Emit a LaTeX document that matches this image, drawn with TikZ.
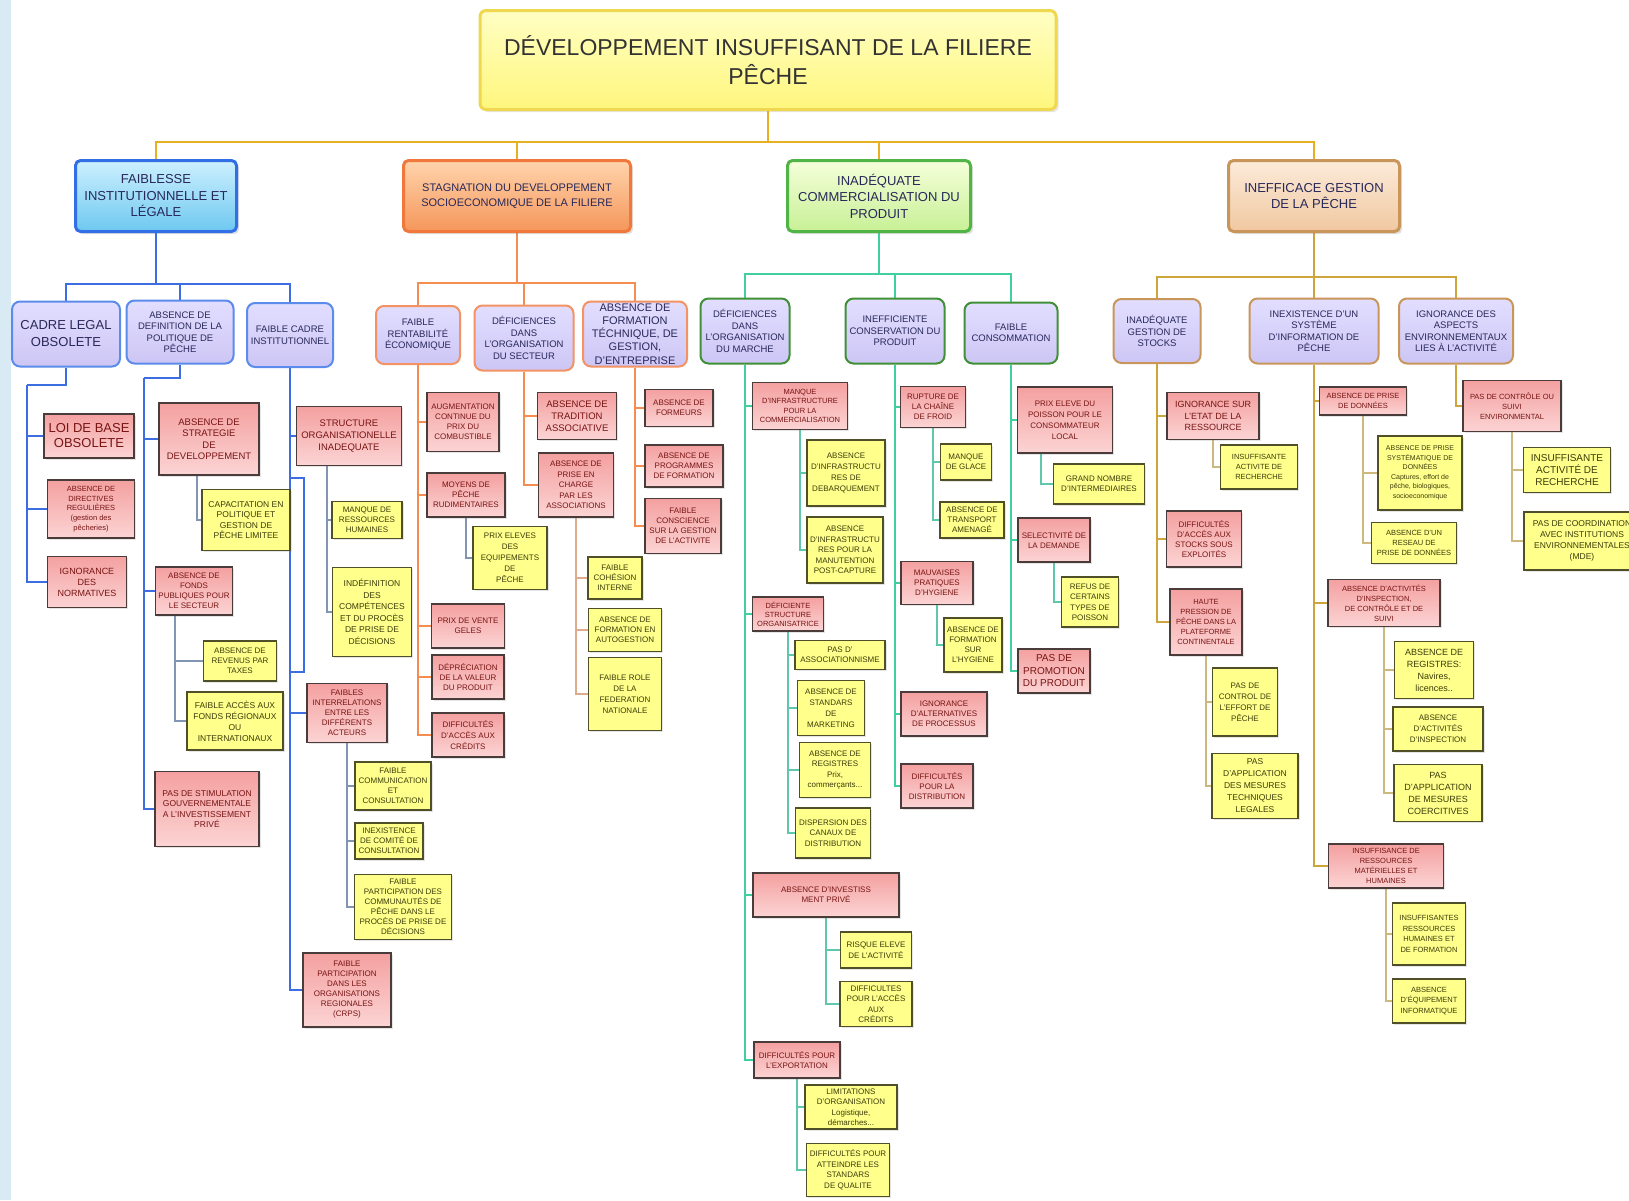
\documentclass[tikz,border=0pt]{standalone}
\usepackage{fontspec}
\setmainfont{Liberation Sans}
\usepackage{tikz}
\usetikzlibrary{shadows,backgrounds,calc}
\usepackage{xcolor}
\definecolor{stripblue}{RGB}{216,235,245}
\definecolor{rootedge}{RGB}{240,215,80}
\definecolor{roottop}{RGB}{255,255,195}
\definecolor{rootbot}{RGB}{255,246,125}
\definecolor{edgeA}{RGB}{50,110,230}
\definecolor{edgeB}{RGB}{240,120,60}
\definecolor{edgeC}{RGB}{80,180,70}
\definecolor{edgeD}{RGB}{200,150,90}
\definecolor{topA}{RGB}{205,240,255}
\definecolor{botA}{RGB}{110,200,240}
\definecolor{topB}{RGB}{255,212,172}
\definecolor{botB}{RGB}{245,150,90}
\definecolor{topC}{RGB}{245,255,218}
\definecolor{botC}{RGB}{200,240,150}
\definecolor{topD}{RGB}{252,235,218}
\definecolor{botD}{RGB}{240,200,160}
\definecolor{lavtop}{RGB}{226,222,255}
\definecolor{lavbot}{RGB}{205,198,245}
\definecolor{lineA}{RGB}{60,110,225}
\definecolor{lineB}{RGB}{245,140,80}
\definecolor{lineC}{RGB}{64,208,160}
\definecolor{lineD}{RGB}{205,165,60}
\definecolor{twigA}{RGB}{130,150,180}
\definecolor{twigB}{RGB}{222,172,140}
\definecolor{twigC}{RGB}{95,200,172}
\definecolor{twigD}{RGB}{205,185,125}
\definecolor{bargold}{RGB}{232,176,32}
\definecolor{causeedge}{RGB}{75,60,60}
\definecolor{causetop}{RGB}{244,160,160}
\definecolor{causebot}{RGB}{252,212,212}
\definecolor{causetext}{RGB}{120,20,20}
\definecolor{detailedge}{RGB}{80,80,40}
\definecolor{detailfill}{RGB}{255,255,140}
\definecolor{detailtext}{RGB}{60,60,10}
\definecolor{cattext}{RGB}{40,40,90}
\newcommand{\boxfont}[2]{\fontsize{#1}{#2}\selectfont}
\tikzset{
    rootbox/.style={rectangle, rounded corners=6pt, draw=rootedge, line width=3pt, top color=roottop, bottom color=rootbot, text=black!80, align=center, font=\boxfont{23}{29}, drop shadow={opacity=0.2}},
    mainbox/.style={rectangle, rounded corners=5pt, line width=3pt, align=center, text=cattext, font=\boxfont{13}{16.5}, inner sep=1pt, drop shadow={opacity=0.25}},
    mainA/.style={mainbox, draw=edgeA, top color=topA, bottom color=botA},
    mainB/.style={mainbox, draw=edgeB, top color=topB, bottom color=botB},
    mainC/.style={mainbox, draw=edgeC, top color=topC, bottom color=botC},
    mainD/.style={mainbox, draw=edgeD, top color=topD, bottom color=botD},
    catbox/.style={rectangle, rounded corners=8pt, line width=2pt, top color=lavtop, bottom color=lavbot, align=center, text=cattext, font=\boxfont{9.5}{11.5}, inner sep=1pt},
    catA/.style={catbox, draw=edgeA!80},
    catB/.style={catbox, draw=edgeB!80},
    catC/.style={catbox, draw=edgeC!80!black},
    catD/.style={catbox, draw=edgeD},
    cause/.style={rectangle, draw=causeedge, line width=1.4pt, top color=causetop, bottom color=causebot, text=causetext, align=center, inner sep=1pt, font=\boxfont{8}{10}, drop shadow={opacity=0.2, shadow xshift=1.5pt, shadow yshift=-1.5pt}},
    detail/.style={rectangle, draw=detailedge, line width=1.4pt, fill=detailfill, text=detailtext, align=center, inner sep=1pt, font=\boxfont{8}{10}, drop shadow={opacity=0.2, shadow xshift=1.5pt, shadow yshift=-1.5pt}},
    barline/.style={draw=bargold, line width=2.5pt},
    spineA/.style={draw=lineA, line width=2pt},
    spineB/.style={draw=lineB, line width=2pt},
    spineC/.style={draw=lineC, line width=2.5pt},
    spineD/.style={draw=lineD, line width=2pt},
    twigA/.style={draw=twigA, line width=1.5pt},
    twigB/.style={draw=twigB, line width=1.5pt},
    twigC/.style={draw=twigC, line width=1.5pt},
    twigD/.style={draw=twigD, line width=1.5pt},
}

\begin{document}
\begin{tikzpicture}[x=1pt, y=-1pt]
    \useasboundingbox (0,0) rectangle (1629,1200);
    % Root
    \node[rootbox, minimum width=576, minimum height=99] (root) at (768,60) {DÉVELOPPEMENT INSUFFISANT DE LA FILIERE\\PÊCHE};
    % Main causes
    \node[mainA, minimum width=161, minimum height=71] (fai) at (156,196) {FAIBLESSE\\INSTITUTIONNELLE ET\\LÉGALE};
    \node[mainB, minimum width=227, minimum height=71, font=\boxfont{11}{14.5}] (sta) at (517,196) {STAGNATION DU DEVELOPPEMENT\\SOCIOECONOMIQUE DE LA FILIERE};
    \node[mainC, minimum width=183, minimum height=71] (ina) at (879,196) {INADÉQUATE\\COMMERCIALISATION DU\\PRODUIT};
    \node[mainD, minimum width=171, minimum height=71] (ine) at (1314,196) {INEFFICACE GESTION\\DE LA PÊCHE};

    % Branch A: faiblesse institutionnelle
    \node[catA, minimum width=108, minimum height=65, font=\boxfont{13}{17}] (cad) at (66,334) {CADRE LEGAL\\OBSOLETE};
    \node[catA, minimum width=107, minimum height=63] (def) at (180,332) {ABSENCE DE\\DEFINITION DE LA\\POLITIQUE DE\\PÊCHE};
    \node[catA, minimum width=86, minimum height=64] (fca) at (290,335) {FAIBLE CADRE\\INSTITUTIONNEL};
    \node[cause, minimum width=90, minimum height=44, font=\boxfont{13}{15}] (loi) at (89,436) {LOI DE BASE\\OBSOLETE};
    \node[cause, minimum width=87, minimum height=58, font=\boxfont{7.5}{9.8}] (dir) at (91,509) {ABSENCE DE\\DIRECTIVES\\REGULIÈRES\\(gestion des\\pêcheries)};
    \node[cause, minimum width=79, minimum height=51, font=\boxfont{9}{11}] (nor) at (87,582) {IGNORANCE\\DES\\NORMATIVES};
    \node[cause, minimum width=100, minimum height=72, font=\boxfont{9.5}{11.5}] (str) at (209,439) {ABSENCE DE\\STRATEGIE\\DE\\DEVELOPPEMENT};
    \node[detail, minimum width=88, minimum height=61, font=\boxfont{8.5}{10.5}] (cap) at (246,520) {CAPACITATION EN\\POLITIQUE ET\\GESTION DE\\PÊCHE LIMITEE};
    \node[cause, minimum width=77, minimum height=48] (fon) at (194,591) {ABSENCE DE\\FONDS\\PUBLIQUES POUR\\LE SECTEUR};
    \node[detail, minimum width=73, minimum height=40] (rev) at (240,661) {ABSENCE DE\\REVENUS PAR\\TAXES};
    \node[detail, minimum width=96, minimum height=58, font=\boxfont{8.5}{11}] (acc) at (235,721) {FAIBLE ACCÈS AUX\\FONDS RÉGIONAUX\\OU\\INTERNATIONAUX};
    \node[cause, minimum width=104, minimum height=75, font=\boxfont{8.5}{10.5}] (sti) at (207,809) {PAS DE STIMULATION\\GOUVERNEMENTALE\\A L'INVESTISSEMENT\\PRIVÉ};
    \node[cause, minimum width=105, minimum height=59, font=\boxfont{9.5}{12}] (sor) at (349,436) {STRUCTURE\\ORGANISATIONELLE\\INADEQUATE};
    \node[detail, minimum width=70, minimum height=37] (rhu) at (367,520) {MANQUE DE\\RESSOURCES\\HUMAINES};
    \node[detail, minimum width=79, minimum height=89, font=\boxfont{8.5}{11.5}] (ind) at (372,612) {INDÉFINITION\\DES\\COMPÉTENCES\\ET DU PROCÈS\\DE PRISE DE\\DÉCISIONS};
    \node[cause, minimum width=80, minimum height=59] (inr) at (347,713) {FAIBLES\\INTERRELATIONS\\ENTRE LES\\DIFFÉRENTS\\ACTEURS};
    \node[detail, minimum width=76, minimum height=48] (com) at (393,786) {FAIBLE\\COMMUNICATION\\ET\\CONSULTATION};
    \node[detail, minimum width=68, minimum height=36] (cmt) at (389,841) {INEXISTENCE\\DE COMITÉ DE\\CONSULTATION};
    \node[detail, minimum width=97, minimum height=65] (par) at (403,907) {FAIBLE\\PARTICIPATION DES\\COMMUNAUTÉS DE\\PÊCHE DANS LE\\PROCÈS DE PRISE DE\\DÉCISIONS};
    \node[cause, minimum width=88, minimum height=74] (crp) at (347,990) {FAIBLE\\PARTICIPATION\\DANS LES\\ORGANISATIONS\\REGIONALES\\(CRPS)};

    % Branch B: stagnation socioeconomique
    \node[catB, minimum width=84, minimum height=58] (ren) at (418,335) {FAIBLE\\RENTABILITÉ\\ÉCONOMIQUE};
    \node[catB, minimum width=99, minimum height=65] (dor) at (524,338) {DÉFICIENCES\\DANS\\L'ORGANISATION\\DU SECTEUR};
    \node[catB, minimum width=104, minimum height=65, font=\boxfont{11}{13.2}] (afo) at (635,334) {ABSENCE DE\\FORMATION\\TÉCHNIQUE, DE\\GESTION,\\D'ENTREPRISE};
    \node[cause, minimum width=72, minimum height=59] (aug) at (463,422) {AUGMENTATION\\CONTINUE DU\\PRIX DU\\COMBUSTIBLE};
    \node[cause, minimum width=78, minimum height=44] (moy) at (466,495) {MOYENS DE\\PÊCHE\\RUDIMENTAIRES};
    \node[detail, minimum width=74, minimum height=63, font=\boxfont{8}{11}] (equ) at (510,558) {PRIX ELEVES\\DES\\EQUIPEMENTS\\DE\\PÊCHE};
    \node[cause, minimum width=73, minimum height=44] (gel) at (468,626) {PRIX DE VENTE\\GELES};
    \node[cause, minimum width=72, minimum height=44] (dep) at (468,677) {DÉPRÉCIATION\\DE LA VALEUR\\DU PRODUIT};
    \node[cause, minimum width=72, minimum height=44, font=\boxfont{8}{11}] (cre) at (468,735) {DIFFICULTÉS\\D'ACCÈS AUX\\CRÉDITS};
    \node[cause, minimum width=79, minimum height=47, font=\boxfont{9.5}{12}] (tra) at (577,416) {ABSENCE DE\\TRADITION\\ASSOCIATIVE};
    \node[cause, minimum width=75, minimum height=64, font=\boxfont{8}{10.5}] (pch) at (576,485) {ABSENCE DE\\PRISE EN\\CHARGE\\PAR LES\\ASSOCIATIONS};
    \node[detail, minimum width=54, minimum height=42] (coh) at (615,578) {FAIBLE\\COHÉSION\\INTERNE};
    \node[detail, minimum width=73, minimum height=43] (aut) at (625,630) {ABSENCE DE\\FORMATION EN\\AUTOGESTION};
    \node[detail, minimum width=73, minimum height=73, font=\boxfont{8}{11}] (fed) at (625,694) {FAIBLE ROLE\\DE LA\\FEDERATION\\NATIONALE};
    \node[cause, minimum width=68, minimum height=37] (frm) at (679,408) {ABSENCE DE\\FORMEURS};
    \node[cause, minimum width=78, minimum height=42] (prg) at (684,466) {ABSENCE DE\\PROGRAMMES\\DE FORMATION};
    \node[cause, minimum width=76, minimum height=55] (cns) at (683,526) {FAIBLE\\CONSCIENCE\\SUR LA GESTION\\DE L'ACTIVITE};

    % Branch C: commercialisation
    \node[catC, minimum width=89, minimum height=65] (dma) at (745,331) {DÉFICIENCES\\DANS\\L'ORGANISATION\\DU MARCHE};
    \node[catC, minimum width=99, minimum height=65] (ico) at (895,331) {INEFFICIENTE\\CONSERVATION DU\\PRODUIT};
    \node[catC, minimum width=93, minimum height=61] (fco) at (1011,333) {FAIBLE\\CONSOMMATION};
    \node[cause, minimum width=95, minimum height=47, font=\boxfont{7.5}{9.5}] (inf) at (800,406) {MANQUE\\D'INFRASTRUCTURE\\POUR LA\\COMMERCIALISATION};
    \node[detail, minimum width=78, minimum height=66, font=\boxfont{8}{11}] (deb) at (846,473) {ABSENCE\\D'INFRASTRUCTU\\RES DE\\DEBARQUEMENT};
    \node[detail, minimum width=76, minimum height=66, font=\boxfont{8}{10.5}] (man) at (845,550) {ABSENCE\\D'INFRASTRUCTU\\RES POUR LA\\MANUTENTION\\POST-CAPTURE};
    \node[cause, minimum width=71, minimum height=34, font=\boxfont{7.5}{9}] (dst) at (788,614) {DÉFICIENTE\\STRUCTURE\\ORGANISATRICE};
    \node[detail, minimum width=90, minimum height=29] (ass) at (840,655) {PAS D'\\ASSOCIATIONNISME};
    \node[detail, minimum width=67, minimum height=55, font=\boxfont{8}{11}] (mkt) at (831,708) {ABSENCE DE\\STANDARS\\DE\\MARKETING};
    \node[detail, minimum width=71, minimum height=55, font=\boxfont{8}{10.5}] (reg) at (835,770) {ABSENCE DE\\REGISTRES\\Prix,\\commerçants...};
    \node[detail, minimum width=75, minimum height=50, font=\boxfont{8}{10.5}] (dis) at (833,833) {DISPERSION DES\\CANAUX DE\\DISTRIBUTION};
    \node[cause, minimum width=146, minimum height=44] (inv) at (826,895) {ABSENCE D'INVESTISS\\MENT PRIVÉ};
    \node[detail, minimum width=71, minimum height=36, font=\boxfont{8}{10.5}] (ris) at (876,950) {RISQUE ELEVE\\DE L'ACTIVITÉ};
    \node[detail, minimum width=72, minimum height=45, font=\boxfont{8}{10.5}] (acr) at (876,1004) {DIFFICULTES\\POUR L'ACCÈS\\AUX\\CRÉDITS};
    \node[cause, minimum width=86, minimum height=36] (exp) at (797,1060) {DIFFICULTÉS POUR\\L'EXPORTATION};
    \node[detail, minimum width=92, minimum height=44, font=\boxfont{8}{10.5}] (log) at (851,1107) {LIMITATIONS\\D'ORGANISATION\\Logistique,\\démarches...};
    \node[detail, minimum width=83, minimum height=53, font=\boxfont{8}{10.5}] (qua) at (848,1170) {DIFFICULTÉS POUR\\ATTEINDRE LES\\STANDARS\\DE QUALITE};
    \node[cause, minimum width=65, minimum height=41] (fro) at (933,407) {RUPTURE DE\\LA CHAÎNE\\DE FROID};
    \node[detail, minimum width=51, minimum height=36] (gla) at (966,462) {MANQUE\\DE GLACE};
    \node[detail, minimum width=64, minimum height=36] (tsp) at (972,520) {ABSENCE DE\\TRANSPORT\\AMENAGÉ};
    \node[cause, minimum width=72, minimum height=43] (hyg) at (937,583) {MAUVAISES\\PRATIQUES\\D'HYGIENE};
    \node[detail, minimum width=58, minimum height=54] (fhy) at (973,645) {ABSENCE DE\\FORMATION\\SUR\\L'HYGIENE};
    \node[cause, minimum width=86, minimum height=44] (alt) at (944,714) {IGNORANCE\\D'ALTERNATIVES\\DE PROCESSUS};
    \node[cause, minimum width=72, minimum height=44] (dif) at (937,786) {DIFFICULTÉS\\POUR LA\\DISTRIBUTION};
    \node[cause, minimum width=95, minimum height=66, font=\boxfont{8}{11}] (pxl) at (1065,420) {PRIX ELEVE DU\\POISSON POUR LE\\CONSOMMATEUR\\LOCAL};
    \node[detail, minimum width=91, minimum height=40] (itm) at (1099,484) {GRAND NOMBRE\\D'INTERMEDIAIRES};
    \node[cause, minimum width=72, minimum height=44] (sel) at (1054,540) {SELECTIVITÉ DE\\LA DEMANDE};
    \node[detail, minimum width=57, minimum height=50, font=\boxfont{8}{10.5}] (ref) at (1090,602) {REFUS DE\\CERTAINS\\TYPES DE\\POISSON};
    \node[cause, minimum width=72, minimum height=44, font=\boxfont{10}{12.5}] (pro) at (1054,671) {PAS DE\\PROMOTION\\DU PRODUIT};

    % Branch D: gestion de la peche
    \node[catD, minimum width=87, minimum height=64] (igs) at (1157,331) {INADÉQUATE\\GESTION DE\\STOCKS};
    \node[catD, minimum width=129, minimum height=65] (isi) at (1314,331) {INEXISTENCE D'UN\\SYSTÈME\\D'INFORMATION DE\\PÊCHE};
    \node[catD, minimum width=114, minimum height=65] (ias) at (1456,331) {IGNORANCE DES\\ASPECTS\\ENVIRONNEMENTAUX\\LIES À L'ACTIVITÉ};
    \node[cause, minimum width=92, minimum height=47, font=\boxfont{9}{11.5}] (ier) at (1213,416) {IGNORANCE SUR\\L'ETAT DE LA\\RESSOURCE};
    \node[detail, minimum width=77, minimum height=44, font=\boxfont{7.5}{10}] (irc) at (1259,467) {INSUFFISANTE\\ACTIVITE DE\\RECHERCHE};
    \node[cause, minimum width=75, minimum height=56] (sto) at (1204,539) {DIFFICULTÉS\\D'ACCÈS AUX\\STOCKS SOUS\\EXPLOITÉS};
    \node[cause, minimum width=72, minimum height=66, font=\boxfont{7.5}{10}] (hpr) at (1206,622) {HAUTE\\PRESSION DE\\PÊCHE DANS LA\\PLATEFORME\\CONTINENTALE};
    \node[detail, minimum width=65, minimum height=68, font=\boxfont{8}{11}] (eff) at (1245,702) {PAS DE\\CONTROL DE\\L'EFFORT DE\\PÊCHE};
    \node[detail, minimum width=86, minimum height=65, font=\boxfont{8.5}{12}] (tec) at (1255,786) {PAS\\D'APPLICATION\\DES MESURES\\TECHNIQUES\\LEGALES};
    \node[cause, minimum width=87, minimum height=28, font=\boxfont{7.5}{9.5}] (apd) at (1363,401) {ABSENCE DE PRISE\\DE DONNÉES};
    \node[detail, minimum width=84, minimum height=74, font=\boxfont{7}{9.5}] (sys) at (1420,473) {ABSENCE DE PRISE\\SYSTÉMATIQUE DE\\DONNÉES\\Captures, effort de\\pêche, biologiques,\\socioeconomique};
    \node[detail, minimum width=85, minimum height=41, font=\boxfont{7.5}{10}] (res) at (1414,543) {ABSENCE D'UN\\RESEAU DE\\PRISE DE DONNÉES};
    \node[cause, minimum width=112, minimum height=47, font=\boxfont{7.5}{10}] (ins) at (1384,603) {ABSENCE D'ACTIVITÉS\\D'INSPECTION,\\DE CONTRÔLE ET DE\\SUIVI};
    \node[detail, minimum width=79, minimum height=57, font=\boxfont{9}{12}] (nav) at (1434,670) {ABSENCE DE\\REGISTRES:\\Navires,\\licences..};
    \node[detail, minimum width=90, minimum height=44, font=\boxfont{8}{11}] (ain) at (1438,729) {ABSENCE\\D'ACTIVITÉS\\D'INSPECTION};
    \node[detail, minimum width=88, minimum height=57, font=\boxfont{9}{12}] (coe) at (1438,793) {PAS\\D'APPLICATION\\DE MESURES\\COERCITIVES};
    \node[cause, minimum width=115, minimum height=44, font=\boxfont{7.5}{10}] (rmh) at (1386,866) {INSUFFISANCE DE\\RESSOURCES\\MATÉRIELLES ET\\HUMAINES};
    \node[detail, minimum width=73, minimum height=62, font=\boxfont{7.5}{10.5}] (rhf) at (1429,934) {INSUFFISANTES\\RESSOURCES\\HUMAINES ET\\DE FORMATION};
    \node[detail, minimum width=73, minimum height=44, font=\boxfont{7.5}{10.5}] (ord) at (1429,1001) {ABSENCE\\D'ÉQUIPEMENT\\INFORMATIQUE};
    \node[cause, minimum width=98, minimum height=51, font=\boxfont{7.5}{10}] (env) at (1512,406) {PAS DE CONTRÔLE OU\\SUIVI\\ENVIRONMENTAL};
    \node[detail, minimum width=87, minimum height=45, font=\boxfont{10}{12}] (rch) at (1567,470) {INSUFFISANTE\\ACTIVITÉ DE\\RECHERCHE};
    \node[detail, minimum width=116, minimum height=58, font=\boxfont{8.5}{11}] (mde) at (1582,541) {PAS DE COORDINATION\\AVEC INSTITUTIONS\\ENVIRONNEMENTALES\\(MDE)};

    % Connectors
    \begin{scope}[on background layer]
        \fill[white] (0,0) rectangle (1629,1200);
        \fill[stripblue] (0,0) rectangle (11,1200);
        \coordinate (bar0) at (0,142);
        \foreach \c in {fai,sta,ina,ine}
            \draw[barline] (root.south) -- (root.south |- bar0) -| (\c.north);
        % level 2 bars
        \coordinate (barA) at (0,284);
        \coordinate (barB) at (0,283);
        \coordinate (barC) at (0,274);
        \coordinate (barD) at (0,277);
        \foreach \c in {cad,def,fca}
            \draw[spineA, line width=2.5pt] (fai.south) -- (fai.south |- barA) -| (\c.north);
        \foreach \c in {ren,dor,afo}
            \draw[spineB, line width=2.5pt] (sta.south) -- (sta.south |- barB) -| (\c.north);
        \foreach \c in {dma,ico,fco}
            \draw[spineC] (ina.south) -- (ina.south |- barC) -| (\c.north);
        \foreach \c in {igs,isi,ias}
            \draw[spineD, line width=2.5pt] (ine.south) -- (ine.south |- barD) -| (\c.north);
        % branch A
        \coordinate (cadJ) at (27,385);
        \coordinate (defJ) at (144,378);
        \draw[spineA] (cad.south) |- (cadJ);
        \foreach \c in {loi,dir,nor}
            \draw[spineA] (cadJ) |- (\c.west);
        \draw[spineA] (def.south) |- (defJ);
        \foreach \c in {str,fon,sti}
            \draw[spineA] (defJ) |- (\c.west);
        \foreach \c in {sor,inr,crp}
            \draw[spineA] (fca.south) |- (\c.west);
        \coordinate (fcaB1) at (290,478);
        \coordinate (fcaB2) at (290,672);
        \draw[spineA] (fcaB1) -- ++(14,0) |- (fcaB2);
        \draw[twigA] ([xshift=-12pt]str.south) |- (cap.west);
        \foreach \c in {rev,acc}
            \draw[twigA] ([xshift=-19pt]fon.south) |- (\c.west);
        \foreach \c in {rhu,ind}
            \draw[twigA] ([xshift=-22pt]sor.south) |- (\c.west);
        \foreach \c in {com,cmt,par}
            \draw[twigA] (inr.south) |- (\c.west);
        % branch B
        \foreach \c in {aug,moy,gel,dep,cre}
            \draw[spineB] (ren.south) |- (\c.west);
        \foreach \c in {tra,pch}
            \draw[spineB] (dor.south) |- (\c.west);
        \foreach \c in {frm,prg,cns}
            \draw[spineB] (afo.south) |- (\c.west);
        \draw[twigA] (moy.south) |- (equ.west);
        \foreach \c in {coh,aut,fed}
            \draw[twigB] (pch.south) |- (\c.west);
        % branch C
        \foreach \c in {inf,dst,inv,exp}
            \draw[spineC] (dma.south) |- (\c.west);
        \foreach \c in {fro,hyg,alt,dif}
            \draw[spineC] (ico.south) |- (\c.west);
        \foreach \c in {pxl,sel,pro}
            \draw[spineC] (fco.south) |- (\c.west);
        \foreach \c in {deb,man}
            \draw[twigC] (inf.south) |- (\c.west);
        \foreach \c in {ass,mkt,reg,dis}
            \draw[twigC] (dst.south) |- (\c.west);
        \foreach \c in {ris,acr}
            \draw[twigC] (inv.south) |- (\c.west);
        \foreach \c in {log,qua}
            \draw[twigC] (exp.south) |- (\c.west);
        \foreach \c in {gla,tsp}
            \draw[twigC] (fro.south) |- (\c.west);
        \draw[twigC] (hyg.south) |- (fhy.west);
        \draw[twigC] ([xshift=-24pt]pxl.south) |- (itm.west);
        \draw[twigC] (sel.south) |- (ref.west);
        % branch D
        \foreach \c in {ier,sto,hpr}
            \draw[spineD] (igs.south) |- (\c.west);
        \foreach \c in {apd,ins,rmh}
            \draw[spineD] (isi.south) |- (\c.west);
        \draw[spineD] (ias.south) |- (env.west);
        \draw[twigD] (ier.south) |- (irc.west);
        \foreach \c in {eff,tec}
            \draw[twigD] (hpr.south) |- (\c.west);
        \foreach \c in {sys,res}
            \draw[twigD] (apd.south) |- (\c.west);
        \foreach \c in {nav,ain,coe}
            \draw[twigD] (ins.south) |- (\c.west);
        \foreach \c in {rhf,ord}
            \draw[twigD] (rmh.south) |- (\c.west);
        \foreach \c in {rch,mde}
            \draw[twigD] (env.south) |- (\c.west);
    \end{scope}
\end{tikzpicture}
\end{document}
